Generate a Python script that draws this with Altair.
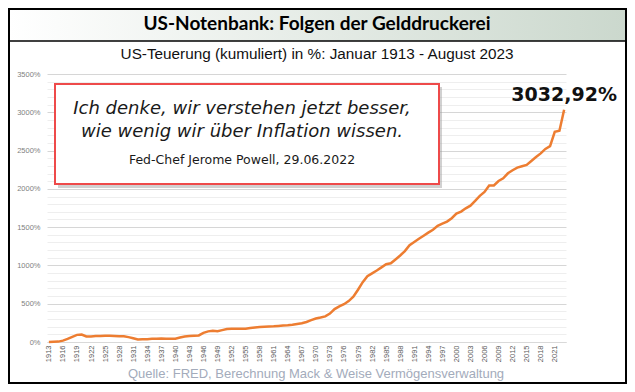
import altair as alt
import pandas as pd

# ---- data ----
years = list(range(1913, 2024))
inflation = [
    0, 3, 5, 18, 40, 68, 93, 98, 72, 72,            # 1913-1922
    77, 77, 83, 81, 77, 74, 76, 64, 49, 34,         # 1923-1932
    35, 37, 41, 43, 47, 43, 43, 44, 58, 72,         # 1933-1942
    78, 82, 86, 119, 139, 146, 141, 155, 170, 172,  # 1943-1952
    174, 172, 173, 182, 190, 195, 200, 204, 206, 210,  # 1953-1962
    215, 218, 224, 236, 246, 262, 285, 306, 319, 334,  # 1963-1972
    371, 430, 466, 494, 534, 591, 683, 781, 859, 896,  # 1973-1982
    934, 974, 1015, 1028, 1078, 1130, 1187, 1265, 1307, 1348,  # 1983-1992
    1388, 1428, 1466, 1518, 1546, 1572, 1617, 1676, 1703, 1746,  # 1993-2002
    1781, 1842, 1908, 1959, 2043, 2045, 2103, 2137, 2203, 2243,  # 2003-2012
    2278, 2296, 2313, 2363, 2415, 2463, 2522, 2558, 2745, 2760,  # 2013-2022
    3032.92,                                                      # Aug 2023
]
x_tick_years = list(range(1913, 2022, 3))
y_ticks = list(range(0, 3501, 100))

title_text = "US-Notenbank: Folgen der Gelddruckerei"
subtitle_text = "US-Teuerung (kumuliert) in %: Januar 1913 - August 2023"
source_text = "Quelle: FRED, Berechnung Mack & Weise Vermögensverwaltung"
quote_lines = ["Ich denke, wir verstehen jetzt besser,", "wie wenig wir über Inflation wissen."]
quote_author = "Fed-Chef Jerome Powell, 29.06.2022"

df = pd.DataFrame({"year": years, "value": inflation})
last = df.tail(1).copy()
last["label"] = ["3032,92%"]

W, H = 519, 268
PL, PT, PR, PB = 39, 66, 61, 42
TW = W + PL + PR
TH = H + PT + PB

one = alt.Data(values=[{"k": 1}])

# decorative frame and title band
band = alt.Chart(one).mark_rect(
    fill=alt.Gradient(
        gradient="linear",
        stops=[alt.GradientStop(color="#ffffff", offset=0),
               alt.GradientStop(color="#cbd8cd", offset=1)],
        x1=0, x2=1, y1=0, y2=0),
).encode(x=alt.value(-PL + 1), x2=alt.value(TW - PL - 1),
         y=alt.value(-PT + 1), y2=alt.value(-33))

band_line = alt.Chart(one).mark_rule(color="black", strokeWidth=1.5).encode(
    x=alt.value(-PL), x2=alt.value(TW - PL), y=alt.value(-33))

frame = alt.Chart(one).mark_rect(fill="transparent", stroke="black", strokeWidth=2).encode(
    x=alt.value(-PL + 1), x2=alt.value(TW - PL - 1),
    y=alt.value(-PT + 1), y2=alt.value(TH - PT - 1))

title = alt.Chart(one).mark_text(
    text=title_text, font="Lato", fontWeight="bold", fontSize=19, color="black",
    align="center", baseline="middle").encode(x=alt.value(270), y=alt.value(-50))

subtitle = alt.Chart(one).mark_text(
    text=subtitle_text, font="Liberation Sans", fontSize=15.3, color="#111111",
    align="center", baseline="middle").encode(x=alt.value(270), y=alt.value(-20))

source = alt.Chart(one).mark_text(
    text=source_text, font="Liberation Sans", fontSize=13, color="#a3abbb",
    align="center", baseline="middle").encode(x=alt.value(269), y=alt.value(300))

# main line
line = alt.Chart(df).mark_line(color="#ED7D31", strokeWidth=2.5).encode(
    x=alt.X("year:Q",
            scale=alt.Scale(domain=[1912.6, 2023.4], nice=False, zero=False),
            axis=alt.Axis(values=x_tick_years, tickCount=200, format="d", labelAngle=-90,
                          labelFont="Liberation Sans", labelFontSize=7.5,
                          labelColor="#595959", labelPadding=3, labelBaseline="middle",
                          labelAlign="right",
                          grid=False, ticks=False, domainColor="#d9d9d9",
                          labelOverlap=False, title=None)),
    y=alt.Y("value:Q",
            scale=alt.Scale(domain=[0, 3500], nice=False),
            axis=alt.Axis(values=y_ticks, tickCount=200,
                          labelExpr="datum.value % 500 === 0 ? datum.value + '%' : ''",
                          labelFont="Liberation Sans", labelFontSize=7.5,
                          labelColor="#7f7f7f", labelPadding=7,
                          ticks=False, domain=False,
                          gridColor={"condition": {"test": "datum.value % 500 === 0",
                                                   "value": "#d6d6d6"},
                                     "value": "#eeeeee"},
                          gridWidth=1, labelOverlap=False, title=None)),
)

end_label = alt.Chart(last).mark_text(
    font="DejaVu Sans", fontWeight="bold", fontSize=19, color="#111111",
    align="center", baseline="bottom", dy=-5).encode(
    x="year:Q", y="value:Q", text="label:N")

# quote box
shadow = alt.Chart(one).mark_rect(fill="#9a9a9a", opacity=0.45).encode(
    x=alt.value(11), x2=alt.value(395), y=alt.value(13), y2=alt.value(114))
box = alt.Chart(one).mark_rect(fill="white", stroke="#ee4a4a", strokeWidth=2).encode(
    x=alt.value(8), x2=alt.value(392), y=alt.value(10), y2=alt.value(110))
q1 = alt.Chart(one).mark_text(
    text=quote_lines[0], font="DejaVu Sans", fontStyle="italic", fontSize=18,
    color="#1a1a1a", align="center", baseline="middle").encode(
    x=alt.value(195), y=alt.value(35))
q2 = alt.Chart(one).mark_text(
    text=quote_lines[1], font="DejaVu Sans", fontStyle="italic", fontSize=18,
    color="#1a1a1a", align="center", baseline="middle").encode(
    x=alt.value(195), y=alt.value(58))
q3 = alt.Chart(one).mark_text(
    text=quote_author, font="DejaVu Sans", fontSize=12.5,
    color="#1a1a1a", align="center", baseline="middle").encode(
    x=alt.value(195), y=alt.value(86))

chart = alt.layer(
    band, band_line, line, end_label, shadow, box, q1, q2, q3,
    title, subtitle, source, frame
).properties(
    width=W, height=H,
    padding={"left": PL, "top": PT, "right": PR, "bottom": PB},
    autosize=alt.AutoSizeParams(type="none"),
    background="white",
).configure_view(strokeWidth=0)

chart.save("out.html", embed_options={"renderer": "svg", "actions": False})
